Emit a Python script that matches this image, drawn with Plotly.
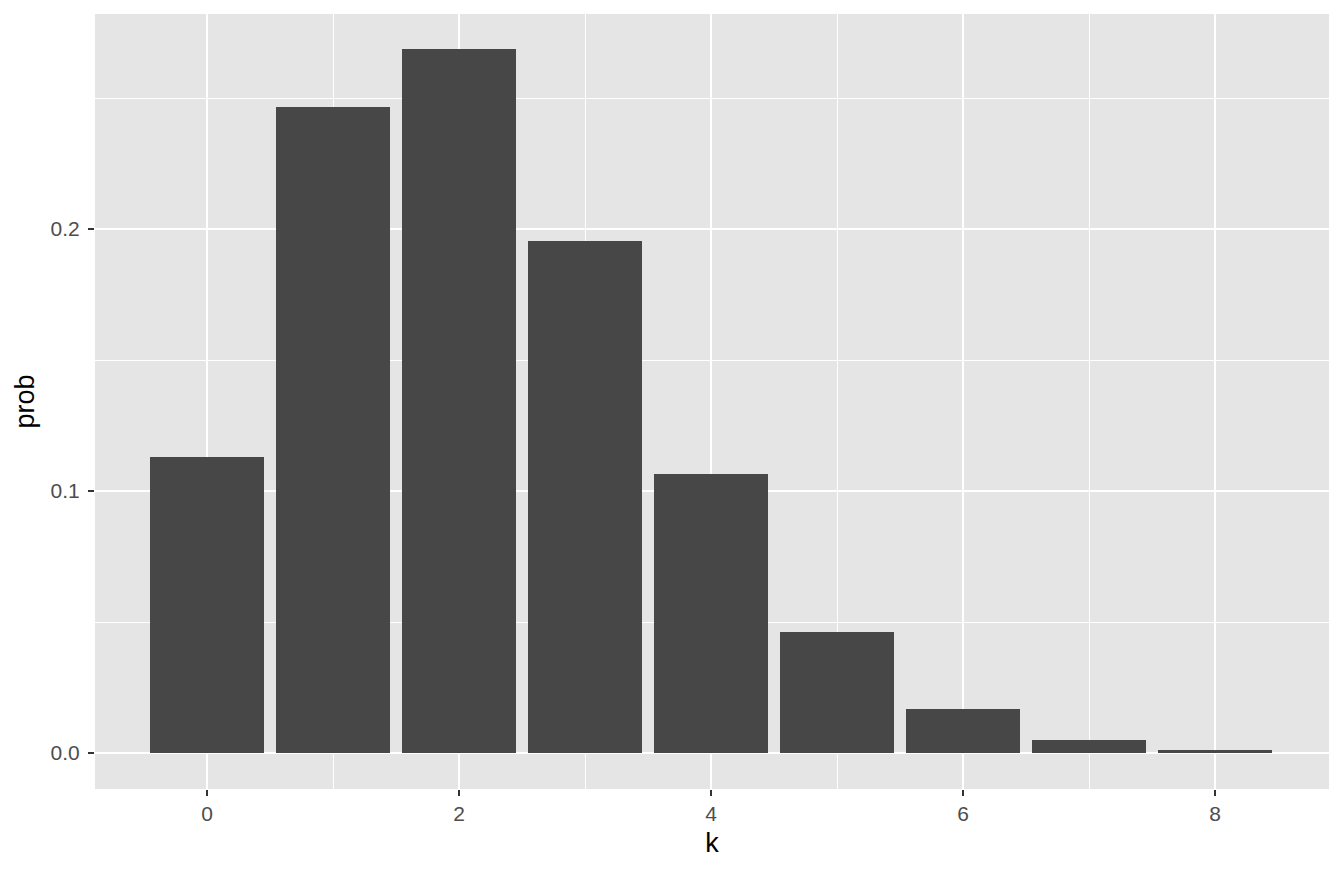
import plotly.graph_objects as go

k = [0, 1, 2, 3, 4, 5, 6, 7, 8]
prob = [0.1130, 0.2466, 0.2687, 0.1954, 0.1065, 0.0462, 0.0168, 0.0050, 0.0011]
x_ticks = [0, 2, 4, 6, 8]
y_ticks = [0.0, 0.1, 0.2]

fig = go.Figure(go.Bar(x=k, y=prob, width=0.9, marker=dict(color="#474747", line=dict(width=0))))

fig.update_layout(
    width=1328, height=857,
    margin=dict(l=87, r=7, t=6, b=76),
    paper_bgcolor="white",
    plot_bgcolor="#E5E5E5",
    font=dict(family="Liberation Sans, Arial, sans-serif"),
    showlegend=False,
    bargap=0,
)
fig.update_xaxes(
    range=[-0.89, 8.905],
    tickvals=x_ticks,
    ticks="outside", ticklen=6, tickcolor="#333333", tickwidth=2,
    tickfont=dict(size=21, color="#4D4D4D"),
    showgrid=True, gridcolor="white", gridwidth=2,
    minor=dict(tickvals=[1, 3, 5, 7], showgrid=True, gridcolor="white", gridwidth=1, ticks=""),
    zeroline=False, showline=False,
    title=dict(text="k", font=dict(size=27, color="black"), standoff=8),
)
fig.update_yaxes(
    range=[-0.01374, 0.2821],
    tickvals=y_ticks, tickformat=".1f",
    ticks="outside", ticklen=6, tickcolor="#333333", tickwidth=2,
    ticklabelstandoff=4,
    tickfont=dict(size=21, color="#4D4D4D"),
    showgrid=True, gridcolor="white", gridwidth=2,
    minor=dict(tickvals=[0.05, 0.15, 0.25], showgrid=True, gridcolor="white", gridwidth=1, ticks=""),
    zeroline=False, showline=False,
    title=dict(text="prob", font=dict(size=27, color="black"), standoff=8),
)

fig.write_html("out.html")
